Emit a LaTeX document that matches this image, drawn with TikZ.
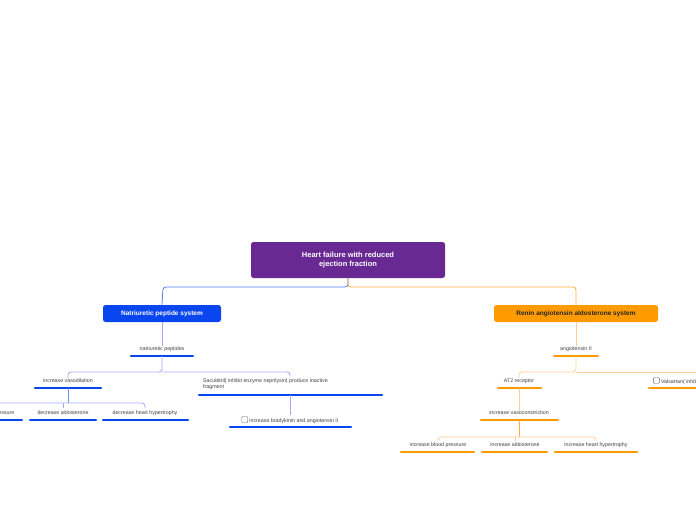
\documentclass[tikz,border=0pt]{standalone}
\usepackage{fontspec}
\setmainfont{Liberation Sans}
\begin{document}
\begin{tikzpicture}[x=1pt,y=-1pt,
    topic/.style={rounded corners=2.5pt,text=white,font=\fontsize{7.5}{9}\selectfont\bfseries,align=center,inner sep=0pt},
    leaf/.style={text=black!75,font=\fontsize{5.3}{6.6}\selectfont,inner sep=0pt},
    bluebar/.style={line width=2.2pt,line cap=round,draw=blue!80!cyan!90!black},
    orbar/.style={line width=2.2pt,line cap=round,draw=orange!90!yellow},
    blueln/.style={draw=blue!35,line width=0.8pt,rounded corners=3pt},
    orln/.style={draw=orange!40,line width=0.8pt,rounded corners=3pt}]
	\definecolor{mainpurple}{HTML}{682A92}
	\definecolor{npblue}{HTML}{0A46F0}
	\definecolor{raorange}{HTML}{FF9A00}
	\useasboundingbox (0,0) rectangle (696,520);
	\clip (0,0) rectangle (696,520);
	
	% Hauptthema
	\node[topic,fill=mainpurple,minimum width=194pt,minimum height=36pt] (root) at (348,260) {Heart failure with reduced\\ejection fraction};
	\node[topic,fill=npblue,minimum width=118pt,minimum height=17pt,font=\fontsize{6.5}{8}\selectfont\bfseries] (np) at (162,313.5) {Natriuretic peptide system};
	\node[topic,fill=raorange,minimum width=164pt,minimum height=17pt,text=black!85,font=\fontsize{6.5}{8}\selectfont\bfseries] (ra) at (576,313.5) {Renin angiotensin aldosterone system};
	\draw[blueln,draw=npblue!70] (348,278) -- (348,287) -- (163,287) -- (np.north);
	\draw[orln,draw=raorange!80] (348,278) -- (348,287) -- (576,287) -- (ra.north);
	
	% linke Seite
	\node[leaf] (natp) at (162,349) {natriuretic peptides};
	\draw[bluebar,draw=npblue] (131,356) -- (193,356);
	\draw[blueln] (np.south) -- (natp.north);
	\node[leaf] (vaso) at (68,381) {increase vasodilation};
	\draw[bluebar,draw=npblue] (35,388) -- (101,388);
	\node[leaf,align=left,anchor=north west] (sacu) at (203,378) {Sacubitril( inhibit enzyme neprilysin) produce inactive\\fragment};
	\draw[bluebar,draw=npblue] (199,395) -- (382,395);
	\draw[blueln] (162,356) -- (162,372) -- (68,372) -- (vaso.north);
	\draw[blueln] (162,372) -- (290,372) -- (290,376);
	\node[leaf] (bp1) at (-14,413) {increase blood pressure};
	\draw[bluebar,draw=npblue] (-45,420) -- (22,420);
	\node[leaf] (ald1) at (63,413) {decrease aldosterone};
	\draw[bluebar,draw=npblue] (30,420) -- (96,420);
	\node[leaf] (hyp1) at (145,413) {decrease heart hypertrophy};
	\draw[bluebar,draw=npblue] (103,420) -- (188,420);
	\draw[blueln,draw=npblue!60] (68,388) -- (68,403);
	\draw[blueln] (0,403) -- (145,403) -- (145,408);
	\draw[blueln] (63,403) -- (63,408);
	\node[leaf] (brad) at (290,420) {\tikz\draw[black!60,rounded corners=1pt] (0,0) rectangle (6,6); increase bradykinin and angiotensin II};
	\draw[bluebar,draw=npblue] (230,427) -- (351,427);
	\draw[blueln] (290,395) -- (290,415);
	
	% rechte Seite
	\node[leaf] (ang) at (576,349) {angiotensin II};
	\draw[orbar,draw=raorange] (554,356) -- (598,356);
	\draw[orln] (ra.south) -- (ang.north);
	\node[leaf] (at2) at (519,381) {AT2 receptor};
	\draw[orbar,draw=raorange] (498,388) -- (541,388);
	\node[leaf,anchor=west] (vals) at (653,381) {\tikz\draw[black!60,rounded corners=1pt] (0,0) rectangle (6,6); Valsartan( inhibit AT1 receptor)};
	\draw[orbar,draw=raorange] (649,388) -- (720,388);
	\draw[orln] (576,356) -- (576,372) -- (519,372) -- (at2.north);
	\draw[orln] (576,372) -- (700,372);
	\node[leaf] (vcon) at (519,413) {increase vasoconstriction};
	\draw[orbar,draw=raorange] (481,420) -- (558,420);
	\draw[orln] (519,388) -- (vcon.north);
	\node[leaf] (bp2) at (438,445) {increase blood pressure};
	\draw[orbar,draw=raorange] (401,452) -- (474,452);
	\node[leaf] (ald2) at (515,445) {increase aldosterone};
	\draw[orbar,draw=raorange] (482,452) -- (547,452);
	\node[leaf] (hyp2) at (596,445) {increase heart hypertrophy};
	\draw[orbar,draw=raorange] (555,452) -- (637,452);
	\draw[orln,draw=raorange!80] (519,420) -- (519,437);
	\draw[orln] (438,441) -- (438,437) -- (596,437) -- (596,441);
	\draw[orln] (515,437) -- (515,441);
\end{tikzpicture}
\end{document}
